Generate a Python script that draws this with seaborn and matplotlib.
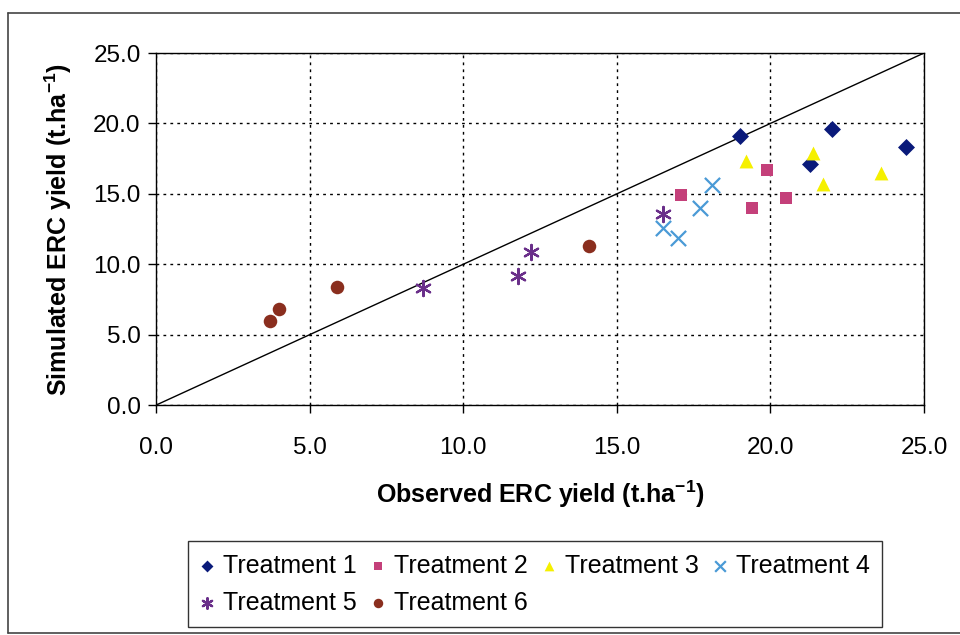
import matplotlib
matplotlib.use("Agg")
import matplotlib.pyplot as plt
import seaborn as sns
import pandas as pd
from matplotlib.lines import Line2D

treatments = ["Treatment 1", "Treatment 2", "Treatment 3", "Treatment 4", "Treatment 5", "Treatment 6"]
observed = {
    "Treatment 1": [19.0, 22.0, 21.3, 24.4],
    "Treatment 2": [17.1, 19.9, 19.4, 20.5],
    "Treatment 3": [19.2, 21.4, 21.7, 23.6],
    "Treatment 4": [16.5, 17.0, 17.7, 18.1],
    "Treatment 5": [8.7, 11.8, 12.2, 16.5],
    "Treatment 6": [3.7, 4.0, 5.9, 14.1],
}
simulated = {
    "Treatment 1": [19.1, 19.6, 17.1, 18.3],
    "Treatment 2": [14.9, 16.7, 14.0, 14.7],
    "Treatment 3": [17.3, 17.9, 15.7, 16.5],
    "Treatment 4": [12.6, 11.9, 14.0, 15.6],
    "Treatment 5": [8.3, 9.2, 10.9, 13.6],
    "Treatment 6": [6.0, 6.8, 8.4, 11.3],
}
ticks = [0.0, 5.0, 10.0, 15.0, 20.0, 25.0]
tick_labels = ["0.0", "5.0", "10.0", "15.0", "20.0", "25.0"]

colors = {
    "Treatment 1": "#0a1a7a",
    "Treatment 2": "#c4407a",
    "Treatment 3": "#f5f000",
    "Treatment 4": "#4a9ad6",
    "Treatment 5": "#6a2f8a",
    "Treatment 6": "#8a2e1e",
}
markers = {
    "Treatment 1": "D",
    "Treatment 2": "s",
    "Treatment 3": "^",
    "Treatment 4": "x",
    "Treatment 5": (6, 2, 0),
    "Treatment 6": "o",
}
sizes = {"Treatment 1": 75, "Treatment 2": 85, "Treatment 3": 100,
         "Treatment 4": 120, "Treatment 5": 120, "Treatment 6": 95}

rows = []
for t in treatments:
    for xo, ys in zip(observed[t], simulated[t]):
        rows.append({"Observed": xo, "Simulated": ys, "Treatment": t})
df = pd.DataFrame(rows)

sns.set_style("white")
plt.rcParams["font.family"] = ["Liberation Sans", "DejaVu Sans"]
plt.rcParams["mathtext.fontset"] = "custom"
plt.rcParams["mathtext.rm"] = "Liberation Sans"
plt.rcParams["mathtext.bf"] = "Liberation Sans:bold"
plt.rcParams["text.color"] = "black"
plt.rcParams["axes.labelcolor"] = "black"
plt.rcParams["xtick.color"] = "black"
plt.rcParams["ytick.color"] = "black"

fig = plt.figure(figsize=(9.6, 6.35), dpi=100)
ax = fig.add_axes([0.1625, 0.362, 0.8, 0.5545])

ax.plot([0, 25], [0, 25], color="black", lw=1.0, zorder=1)

for t in treatments:
    sub = df[df["Treatment"] == t]
    m = markers[t]
    line_art = m in ("x",) or isinstance(m, tuple)
    kw = dict(linewidth=1.6, color=colors[t]) if line_art else dict(linewidth=0, color=colors[t])
    sns.scatterplot(data=sub, x="Observed", y="Simulated", marker=m, s=sizes[t],
                    label=t, ax=ax, zorder=3, **kw)

ax.set_xlim(0, 25)
ax.set_ylim(0, 25)
ax.set_xticks(ticks)
ax.set_yticks(ticks)
ax.set_xticklabels(tick_labels, fontsize=17.5)
ax.set_yticklabels(tick_labels, fontsize=17.5)
ax.tick_params(axis="both", length=6, width=1, colors="black", direction="out")
ax.tick_params(axis="x", pad=17)
ax.tick_params(axis="y", pad=5)
ax.xaxis.set_ticks_position("bottom")
ax.yaxis.set_ticks_position("left")
ax.grid(True, color="black", linestyle=(0, (2, 3)), linewidth=1)
for sp in ax.spines.values():
    sp.set_color("black")
    sp.set_linewidth(1)

ax.set_xlabel("Observed ERC yield (t.ha$^{\\mathbf{-1}}$)", fontsize=18, fontweight="bold", labelpad=14)
ax.set_ylabel("Simulated ERC yield (t.ha$^{\\mathbf{-1}}$)", fontsize=18, fontweight="bold", labelpad=14)

handles, labels = ax.get_legend_handles_labels()
if ax.get_legend() is not None:
    ax.get_legend().remove()
hmap = dict(zip(labels, handles))
order = ["Treatment 1", "Treatment 5", "Treatment 2", "Treatment 6", "Treatment 3", "Treatment 4"]
leg = fig.legend([hmap[o] for o in order], order, ncol=4,
                 loc="upper left", bbox_to_anchor=(0.196, 0.148, 0.723, 0.0),
                 mode="expand", fontsize=18, frameon=True, fancybox=False,
                 handlelength=0.5, handletextpad=0.4, columnspacing=0.3,
                 borderpad=0.5, labelspacing=0.52, markerscale=0.7, borderaxespad=0)
leg.get_frame().set_edgecolor("black")
leg.get_frame().set_linewidth(1)

# outer frame of the chart area
frame_kw = dict(transform=fig.transFigure, color="#444444", lw=1.2)
fig.add_artist(Line2D([0.008, 0.008], [0.003, 0.98], **frame_kw))
fig.add_artist(Line2D([0.008, 1.0], [0.98, 0.98], **frame_kw))
fig.add_artist(Line2D([0.008, 1.0], [0.003, 0.003], **frame_kw))

fig.savefig("out.png", dpi=100)
